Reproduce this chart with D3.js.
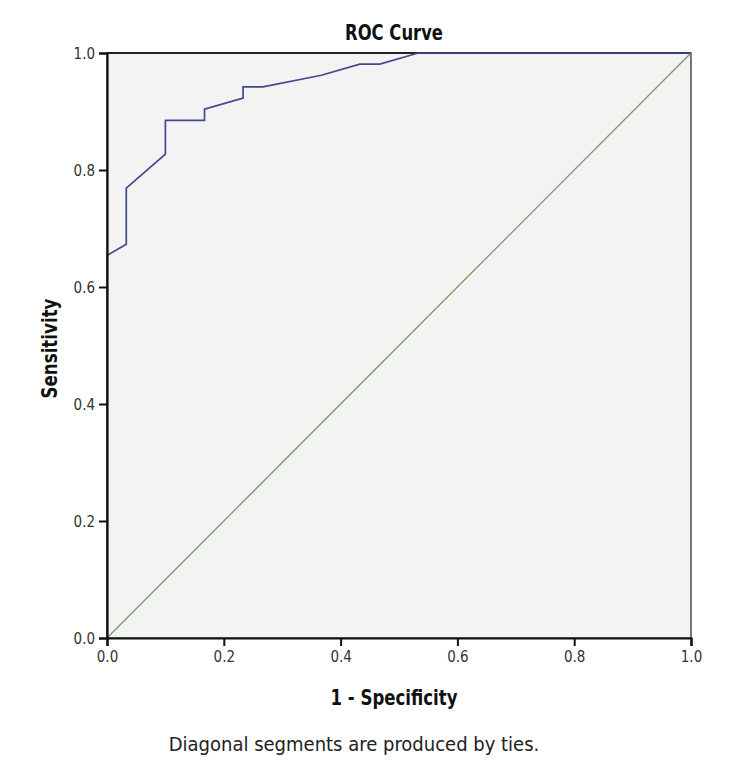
<!DOCTYPE html>
<html>
<head>
<meta charset="utf-8">
<script src="https://cdn.jsdelivr.net/npm/d3@7"></script>
<style>
  body { margin: 0; background: #ffffff; }
  svg { display: block; }
</style>
</head>
<body>
<div id="chart"></div>
<script>
// ROC curve points (1 - specificity, sensitivity)
const fpr = [0, 0, 0.033, 0.033, 0.1, 0.1, 0.167, 0.167, 0.233, 0.233, 0.267, 0.367, 0.433, 0.467, 0.533, 1.0];
const tpr = [0, 0.654, 0.673, 0.769, 0.827, 0.885, 0.885, 0.904, 0.923, 0.942, 0.942, 0.962, 0.981, 0.981, 1.0, 1.0];
const refLine = [0, 1];
const tickValues = [0, 0.2, 0.4, 0.6, 0.8, 1.0];

const width = 750, height = 766;
const margin = { left: 107, top: 53, right: 59, bottom: 128 };

const svg = d3.select("#chart").append("svg")
    .attr("width", width)
    .attr("height", height);

const x = d3.scaleLinear().domain([0, 1]).range([margin.left, width - margin.right]);
const y = d3.scaleLinear().domain([0, 1]).range([height - margin.bottom, margin.top]);

const narrow = "'Liberation Sans Narrow', 'DejaVu Sans Condensed', 'Roboto Condensed', sans-serif";

// fundo da área do gráfico
svg.append("rect")
    .attr("x", x(0))
    .attr("y", y(1))
    .attr("width", x(1) - x(0))
    .attr("height", y(0) - y(1))
    .attr("fill", "#f3f3f3")
    .attr("stroke", "#222")
    .attr("stroke-width", 1.2);

// borda superior mais escura
svg.append("line")
    .attr("x1", x(0)).attr("y1", y(1))
    .attr("x2", x(1)).attr("y2", y(1))
    .attr("stroke", "#222")
    .attr("stroke-width", 1.8);

// linha de referência (diagonal)
svg.append("line")
    .attr("x1", x(refLine[0])).attr("y1", y(refLine[0]))
    .attr("x2", x(refLine[1])).attr("y2", y(refLine[1]))
    .attr("stroke", "#6f9f63")
    .attr("stroke-width", 1.3);

// curva ROC
const pts = fpr.map((f, i) => [f, tpr[i]]);
svg.append("path")
    .datum(pts)
    .attr("fill", "none")
    .attr("stroke", "#434a8c")
    .attr("stroke-width", 1.7)
    .attr("d", d3.line().x(d => x(d[0])).y(d => y(d[1])));

// eixos
const xAxis = svg.append("g")
    .attr("transform", `translate(0,${y(0)})`)
    .call(d3.axisBottom(x).tickValues(tickValues).tickFormat(d3.format(".1f")).tickSize(8).tickPadding(5));
const yAxis = svg.append("g")
    .attr("transform", `translate(${x(0)},0)`)
    .call(d3.axisLeft(y).tickValues(tickValues).tickFormat(d3.format(".1f")).tickSize(8).tickPadding(4));

[xAxis, yAxis].forEach(g => {
    g.select(".domain").attr("stroke", "#111").attr("stroke-width", 2.2);
    g.selectAll(".tick line").attr("stroke", "#111").attr("stroke-width", 2);
    g.selectAll(".tick text")
        .attr("fill", "#333")
        .style("font-family", narrow)
        .style("font-size", "15px");
});
yAxis.selectAll(".tick text").attr("dy", "0.35em");

// títulos
svg.append("text")
    .attr("x", 394).attr("y", 40)
    .attr("text-anchor", "middle")
    .attr("textLength", 98)
    .attr("lengthAdjust", "spacingAndGlyphs")
    .style("font-family", narrow)
    .style("font-weight", "bold")
    .style("font-size", "21px")
    .attr("fill", "#111")
    .text("ROC Curve");

svg.append("text")
    .attr("x", 394).attr("y", 705)
    .attr("text-anchor", "middle")
    .attr("textLength", 127)
    .attr("lengthAdjust", "spacingAndGlyphs")
    .style("font-family", narrow)
    .style("font-weight", "bold")
    .style("font-size", "22px")
    .attr("fill", "#111")
    .text("1 - Specificity");

svg.append("text")
    .attr("transform", `translate(57,${(y(0) + y(1)) / 2 + 3}) rotate(-90)`)
    .attr("text-anchor", "middle")
    .attr("textLength", 100)
    .attr("lengthAdjust", "spacingAndGlyphs")
    .style("font-family", narrow)
    .style("font-weight", "bold")
    .style("font-size", "22px")
    .attr("fill", "#111")
    .text("Sensitivity");

svg.append("text")
    .attr("x", 354).attr("y", 751)
    .attr("text-anchor", "middle")
    .style("font-family", narrow)
    .style("font-size", "20px")
    .attr("fill", "#222")
    .text("Diagonal segments are produced by ties.");
</script>
</body>
</html>
